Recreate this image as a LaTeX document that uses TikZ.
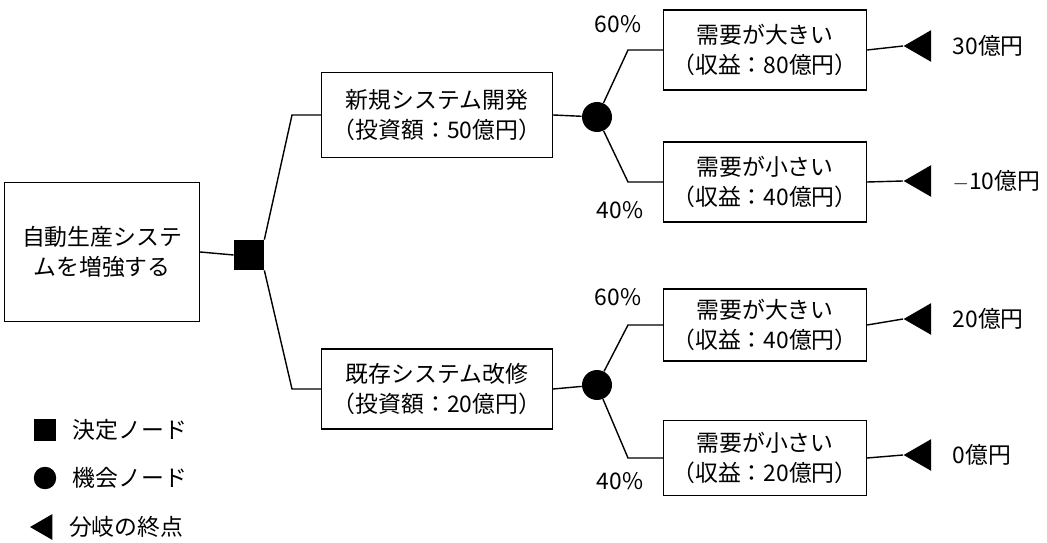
\documentclass[tikz,border=0pt]{standalone}
\usepackage{fontspec}
\setmainfont{Liberation Serif}
\newfontfamily\jp{Noto Sans CJK JP}
\usetikzlibrary{positioning,shapes.geometric}
\begin{document}
\begin{tikzpicture}[x=0.02cm,y=-0.02cm,font=\jp\fontsize{13}{17}\selectfont]
\tikzstyle{box node}=[rectangle,draw,line width=0.8pt,align=center,inner sep=3pt]
\tikzstyle{decision node}=[rectangle,fill=black,minimum size=0.6cm,inner sep=0]
\tikzstyle{chance node}=[circle,fill=black,minimum size=0.6cm,inner sep=0]
\tikzset{
	end node/.style={isosceles triangle,shape border rotate=180,fill=black,minimum height=0.55cm,minimum width=0.5cm,isosceles triangle apex angle=60,inner sep=0},
	link/.style={line width=0.8pt}
}
\useasboundingbox (0,0) rectangle (1047,543);
% root and decision
\node[box node,minimum width=3.9cm,minimum height=2.78cm] (root) at (102,252) {自動生産システ\\ムを増強する};
\node[decision node] (dec) at (249,255) {};
% alternatives
\node[box node,minimum width=4.62cm,minimum height=1.7cm] (new) at (437,115) {新規システム開発\\（投資額：50億円）};
\node[box node,minimum width=4.62cm,minimum height=1.6cm] (old) at (437,389) {既存システム改修\\（投資額：20億円）};
\node[chance node] (c1) at (597,117) {};
\node[chance node] (c2) at (597,385) {};
% outcomes
\node[box node,minimum width=4.06cm,minimum height=1.6cm] (o1) at (765,50) {需要が大きい\\（収益：80億円）};
\node[box node,minimum width=4.06cm,minimum height=1.6cm] (o2) at (765,182) {需要が小さい\\（収益：40億円）};
\node[box node,minimum width=4.06cm,minimum height=1.44cm] (o3) at (765,325) {需要が大きい\\（収益：40億円）};
\node[box node,minimum width=4.06cm,minimum height=1.5cm] (o4) at (765,458) {需要が小さい\\（収益：20億円）};
\node[end node] (e1) at (922,46) {};
\node[end node] (e2) at (922,181) {};
\node[end node] (e3) at (922,319) {};
\node[end node] (e4) at (922,455) {};
\node[right=0.3cm of e1] {30億円};
\node[right=0.3cm of e2] {$-$10億円};
\node[right=0.3cm of e3] {20億円};
\node[right=0.3cm of e4] {0億円};
\node (p1) at (618,24) {60\%};
\node (p2) at (620,210) {40\%};
\node (p3) at (618,297) {60\%};
\node (p4) at (620,481) {40\%};
% connectors
\draw[link] (root.east) -- (dec.west);
\draw[link] (dec.north east) -- (292,115) -- (new.west);
\draw[link] (dec.south east) -- (292,389) -- (old.west);
\draw[link] (new.east) -- (c1);
\draw[link] (old.east) -- (c2);
\draw[link] (c1) -- (628,50) -- (o1.west);
\draw[link] (c1) -- (628,182) -- (o2.west);
\draw[link] (c2) -- (628,325) -- (o3.west);
\draw[link] (c2) -- (628,458) -- (o4.west);
\draw[link] (o1.east) -- (e1.apex);
\draw[link] (o2.east) -- (e2.apex);
\draw[link] (o3.east) -- (e3.apex);
\draw[link] (o4.east) -- (e4.apex);
% legend
\node[decision node,minimum size=0.45cm] (ld) at (45,430) {};
\node[chance node,minimum size=0.45cm] (lc) at (45,478) {};
\node[end node,minimum height=0.45cm,minimum width=0.42cm] (le) at (45,527) {};
\node[right=0.2cm of ld] {決定ノード};
\node[right=0.2cm of lc] {機会ノード};
\node[right=0.2cm of le] {分岐の終点};
\end{tikzpicture}
\end{document}
